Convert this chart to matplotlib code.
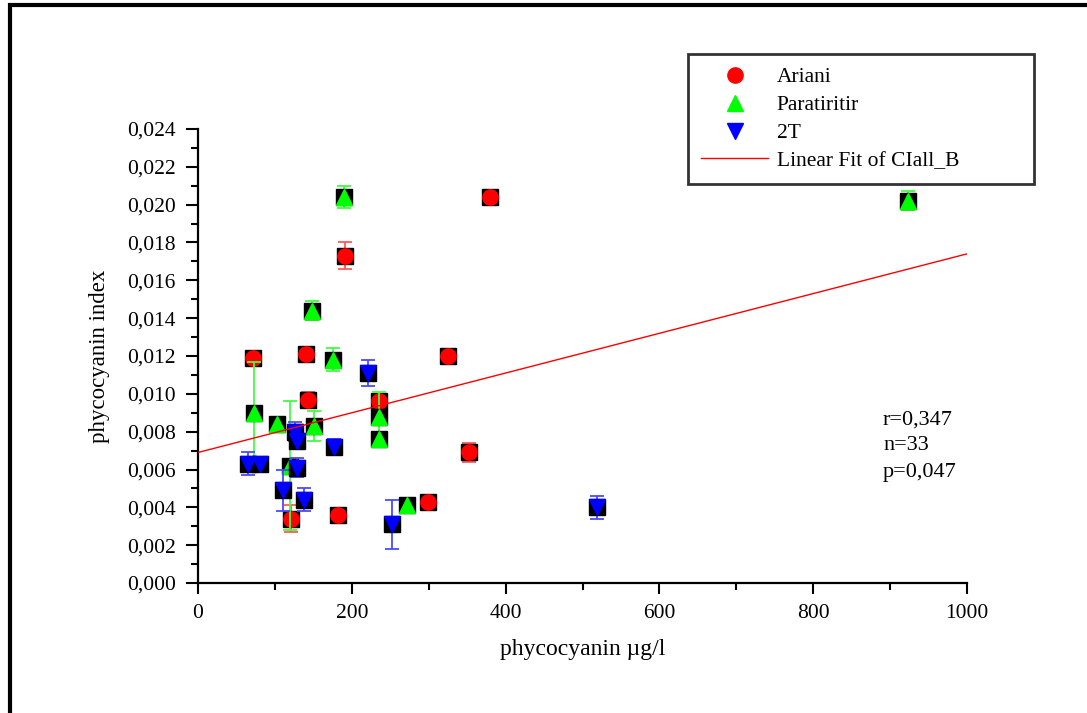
import matplotlib
matplotlib.use("Agg")
import matplotlib.pyplot as plt
from matplotlib.patches import Rectangle
from matplotlib.lines import Line2D
from matplotlib.ticker import MultipleLocator, FuncFormatter

# ---------------- data ----------------
ariani_x = [72, 140, 143, 191, 380, 325, 235, 352, 121, 182, 299]
ariani_y = [0.0119, 0.0121, 0.0097, 0.0173, 0.0204, 0.0120, 0.0096, 0.0069, 0.0034, 0.0036, 0.0043]
ariani_err = [0.0002, 0.0002, 0.0004, 0.0007, 0.0002, 0.0002, 0.0003, 0.0005, 0.0007, 0.0002, 0.0002]

parat_x = [73, 103, 120, 148, 151, 176, 190, 236, 236, 272, 923]
parat_y = [0.0090, 0.0084, 0.0062, 0.0144, 0.0083, 0.0118, 0.0204, 0.0088, 0.0076, 0.0041, 0.0202]
parat_err = [0.0027, 0.0002, 0.0034, 0.0005, 0.0008, 0.0006, 0.0006, 0.0013, 0.0002, 0.0002, 0.0005]

t2_x = [65, 81, 110, 126, 129, 129, 138, 177, 221, 252, 519]
t2_y = [0.0063, 0.0063, 0.0049, 0.0080, 0.0075, 0.0061, 0.0044, 0.0072, 0.0111, 0.0031, 0.0040]
t2_err = [0.0006, 0.0003, 0.0011, 0.0005, 0.0004, 0.0005, 0.0006, 0.0004, 0.0007, 0.0013, 0.0006]

fit_x = [0, 1000]
fit_y = [0.0069, 0.0174]

series_names = ["Ariani", "Paratiritir", "2T"]
fit_name = "Linear Fit of CIall_B"
stats_lines = ["r=0,347", "n=33", "p=0,047"]
xlabel = "phycocyanin µg/l"
ylabel = "phycocyanin index"

# ---------------- style ----------------
plt.rcParams['font.family'] = ['Liberation Serif', 'DejaVu Serif']

W, H = 1087, 713
fig = plt.figure(figsize=(W / 100, H / 100), dpi=100)
ax = fig.add_axes([198 / W, 1 - 583 / H, (967 - 198) / W, (583 - 129) / H])

series = [
    (ariani_x, ariani_y, ariani_err, 'o', '#ff0000', '#ff5a5a', 11),
    (parat_x, parat_y, parat_err, '^', '#00ff00', '#40ff40', 12),
    (t2_x, t2_y, t2_err, 'v', '#0000ff', '#4a4aff', 12),
]

for i, (xs, ys, es, mk, col, ecol, ms) in enumerate(series):
    ax.errorbar(xs, ys, yerr=es, fmt='none', ecolor=ecol, elinewidth=1.3,
                capsize=5, capthick=1.3, zorder=2 + i * 3)
    ax.plot(xs, ys, linestyle='none', marker='s', markersize=12,
            markerfacecolor='black', markeredgecolor='black', zorder=3 + i * 3)
    ax.plot(xs, ys, linestyle='none', marker=mk, markersize=ms,
            markerfacecolor=col, markeredgecolor=col, zorder=4 + i * 3,
            label=series_names[i])

ax.plot(fit_x, fit_y, color='#ff0000', linewidth=1.0, zorder=20, label=fit_name)

ax.set_xlim(0, 1000)
ax.set_ylim(0, 0.024)
ax.xaxis.set_major_locator(MultipleLocator(200))
ax.xaxis.set_minor_locator(MultipleLocator(100))
ax.yaxis.set_major_locator(MultipleLocator(0.002))
ax.yaxis.set_minor_locator(MultipleLocator(0.001))
ax.yaxis.set_major_formatter(FuncFormatter(lambda v, p: f"{v:.3f}".replace('.', ',')))
ax.xaxis.set_major_formatter(FuncFormatter(lambda v, p: f"{v:.0f}"))

for s in ['top', 'right']:
    ax.spines[s].set_visible(False)
for s in ['left', 'bottom']:
    ax.spines[s].set_linewidth(1.6)
ax.tick_params(which='major', direction='out', length=9, width=1.5, labelsize=15.5, pad=7)
ax.tick_params(which='minor', direction='out', length=5, width=1.5)
ax.tick_params(axis='x', which='major', length=8, pad=7)

ax.set_xlabel(xlabel, fontsize=17, labelpad=12)
ax.set_ylabel(ylabel, fontsize=16.5, labelpad=12)

# stats text
for k, s in enumerate(stats_lines):
    fig.text(883 / W, 1 - (420 + 26 * k) / H, s, fontsize=16, va='center', ha='left')

# legend
handles = [
    Line2D([], [], linestyle='none', marker='o', markersize=11, color='#ff0000'),
    Line2D([], [], linestyle='none', marker='^', markersize=12, color='#00ff00'),
    Line2D([], [], linestyle='none', marker='v', markersize=12, color='#0000ff'),
    Line2D([], [], color='#ff0000', linewidth=1.0),
]
leg = fig.legend(handles, series_names + [fit_name], loc='upper left',
                 bbox_to_anchor=(688 / W, 1 - 54 / H, (1034 - 688) / W, 0),
                 mode='expand', frameon=True, fancybox=False, shadow=False,
                 fontsize=15.5, handlelength=3.1, handletextpad=0.4,
                 labelspacing=0.36, borderpad=0.62, borderaxespad=0)
leg.get_frame().set_edgecolor('black')
leg.get_frame().set_linewidth(2.0)

# outer figure frame (only left and top edges visible)
fig.patches.append(Rectangle((9.5 / W, -0.2), 1.5, 1.2 - 4.5 / H,
                             transform=fig.transFigure, fill=False,
                             edgecolor='black', linewidth=3.0, clip_on=False))

fig.savefig("out.png", dpi=100, facecolor='white')
